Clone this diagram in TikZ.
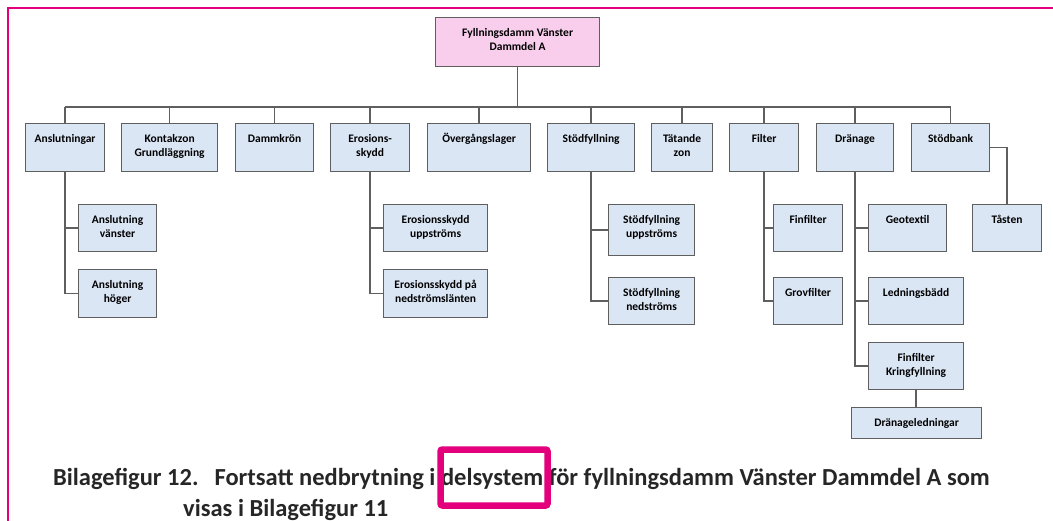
\documentclass[tikz,border=0pt]{standalone}
\usepackage{fontspec}
\setmainfont{Carlito}
\definecolor{ljusbla}{RGB}{219,230,245}
\definecolor{rosa}{RGB}{249,206,236}
\definecolor{linje}{RGB}{95,95,95}
\definecolor{magenta}{RGB}{228,0,124}
\newcommand{\rt}[3]{\parbox[c][#2pt][t]{#1pt}{\centering\rule{0pt}{19pt}#3}}

\begin{document}
\begin{tikzpicture}[x=1pt,y=-1pt,
   ruta/.style={draw=linje,fill=ljusbla,line width=1.2pt,anchor=north west,
     inner sep=0pt,font=\bfseries\fontsize{11.5}{14}\selectfont},
   gren/.style={draw=linje,line width=1.3pt},
   rubrik/.style={anchor=base west,inner sep=0pt,text=black!85,
     font=\bfseries\fontsize{24.5}{28}\selectfont}]
   \useasboundingbox (0,0) rectangle (1053,521);
   \draw[magenta,line width=2pt] (8,521) -- (8,8.5) -- (1053,8.5);
   % top
   \node[ruta,fill=rosa] (rot) at (435,17) {\rt{164}{49}{Fyllningsdamm Vänster\\Dammdel A}};
   % first level
   \node[ruta] (ansl)  at (25,123)  {\rt{79}{48}{Anslutningar}};
   \node[ruta] (kont)  at (121,123) {\rt{96}{48}{Kontakzon\\Grundläggning}};
   \node[ruta] (kron)  at (235,123) {\rt{78}{48}{Dammkrön}};
   \node[ruta] (eros)  at (330,123) {\rt{79}{48}{Erosions-\\skydd}};
   \node[ruta] (overg) at (427,123) {\rt{103}{48}{Övergångslager}};
   \node[ruta] (stodf) at (547,123) {\rt{87}{48}{Stödfyllning}};
   \node[ruta] (tat)   at (651,123) {\rt{61}{48}{Tätande\\zon}};
   \node[ruta] (filt)  at (729,123) {\rt{69}{48}{Filter}};
   \node[ruta] (dran)  at (816,123) {\rt{77}{48}{Dränage}};
   \node[ruta] (stodb) at (911,123) {\rt{78}{48}{Stödbank}};
   % second level
   \node[ruta] (anslv) at (78,204)  {\rt{78}{47}{Anslutning\\vänster}};
   \node[ruta] (anslh) at (78,269)  {\rt{78}{48}{Anslutning\\höger}};
   \node[ruta] (erosu) at (383,204) {\rt{104}{47}{Erosionsskydd\\uppströms}};
   \node[ruta] (erosn) at (383,269) {\rt{104}{48}{Erosionsskydd på\\nedströmslänten}};
   \node[ruta] (stodu) at (608,204) {\rt{86}{51}{Stödfyllning\\uppströms}};
   \node[ruta] (stodn) at (608,277) {\rt{86}{47}{Stödfyllning\\nedströms}};
   \node[ruta] (finf)  at (773,204) {\rt{69}{47}{Finfilter}};
   \node[ruta] (grovf) at (773,277) {\rt{69}{47}{Grovfilter}};
   \node[ruta] (geo)   at (868,204) {\rt{78}{47}{Geotextil}};
   \node[ruta] (ledn)  at (868,277) {\rt{95}{47}{Ledningsbädd}};
   \node[ruta] (kring) at (868,342) {\rt{95}{47}{Finfilter\\Kringfyllning}};
   \node[ruta] (dranl) at (851,407) {\rt{130}{31}{Dränageledningar}};
   \node[ruta] (tasten) at (972,204) {\rt{69}{47}{Tåsten}};
   % connectors
   \coordinate (buss) at (0,107);
   \draw[gren] (rot.south) -- (rot.south |- buss);
   \draw[gren] (ansl.north |- buss) -- (stodb.north |- buss);
   \foreach \n in {ansl,kont,kron,eros,overg,stodf,tat,filt,dran,stodb}
     \draw[gren] (\n.north) -- (\n.north |- buss);
   \draw[gren] (ansl.south) |- (anslh.west);
   \draw[gren] (ansl.south |- anslv.west) -- (anslv.west);
   \draw[gren] (eros.south) |- (erosn.west);
   \draw[gren] (eros.south |- erosu.west) -- (erosu.west);
   \draw[gren] (stodf.south) |- (stodn.west);
   \draw[gren] (stodf.south |- stodu.west) -- (stodu.west);
   \draw[gren] (filt.south) |- (grovf.west);
   \draw[gren] (filt.south |- finf.west) -- (finf.west);
   \draw[gren] (dran.south) |- (kring.west);
   \foreach \n in {geo,ledn}
     \draw[gren] (dran.south |- \n.west) -- (\n.west);
   \draw[gren] (kring.south) -- (kring.south |- dranl.north);
   \draw[gren] (stodb.east) -| (tasten.north);
   % caption
   \node[rubrik] (cap1) at (53,485)
     {Bilagefigur 12.\hspace{16pt}Fortsatt nedbrytning i delsystem för fyllningsdamm Vänster Dammdel A som};
   \node[rubrik] (cap2) at (183,516) {visas i Bilagefigur 11};
   \draw[magenta,line width=6.5pt,rounded corners=2pt] (440.5,449.5) rectangle (547.5,505.5);
\end{tikzpicture}
\end{document}
